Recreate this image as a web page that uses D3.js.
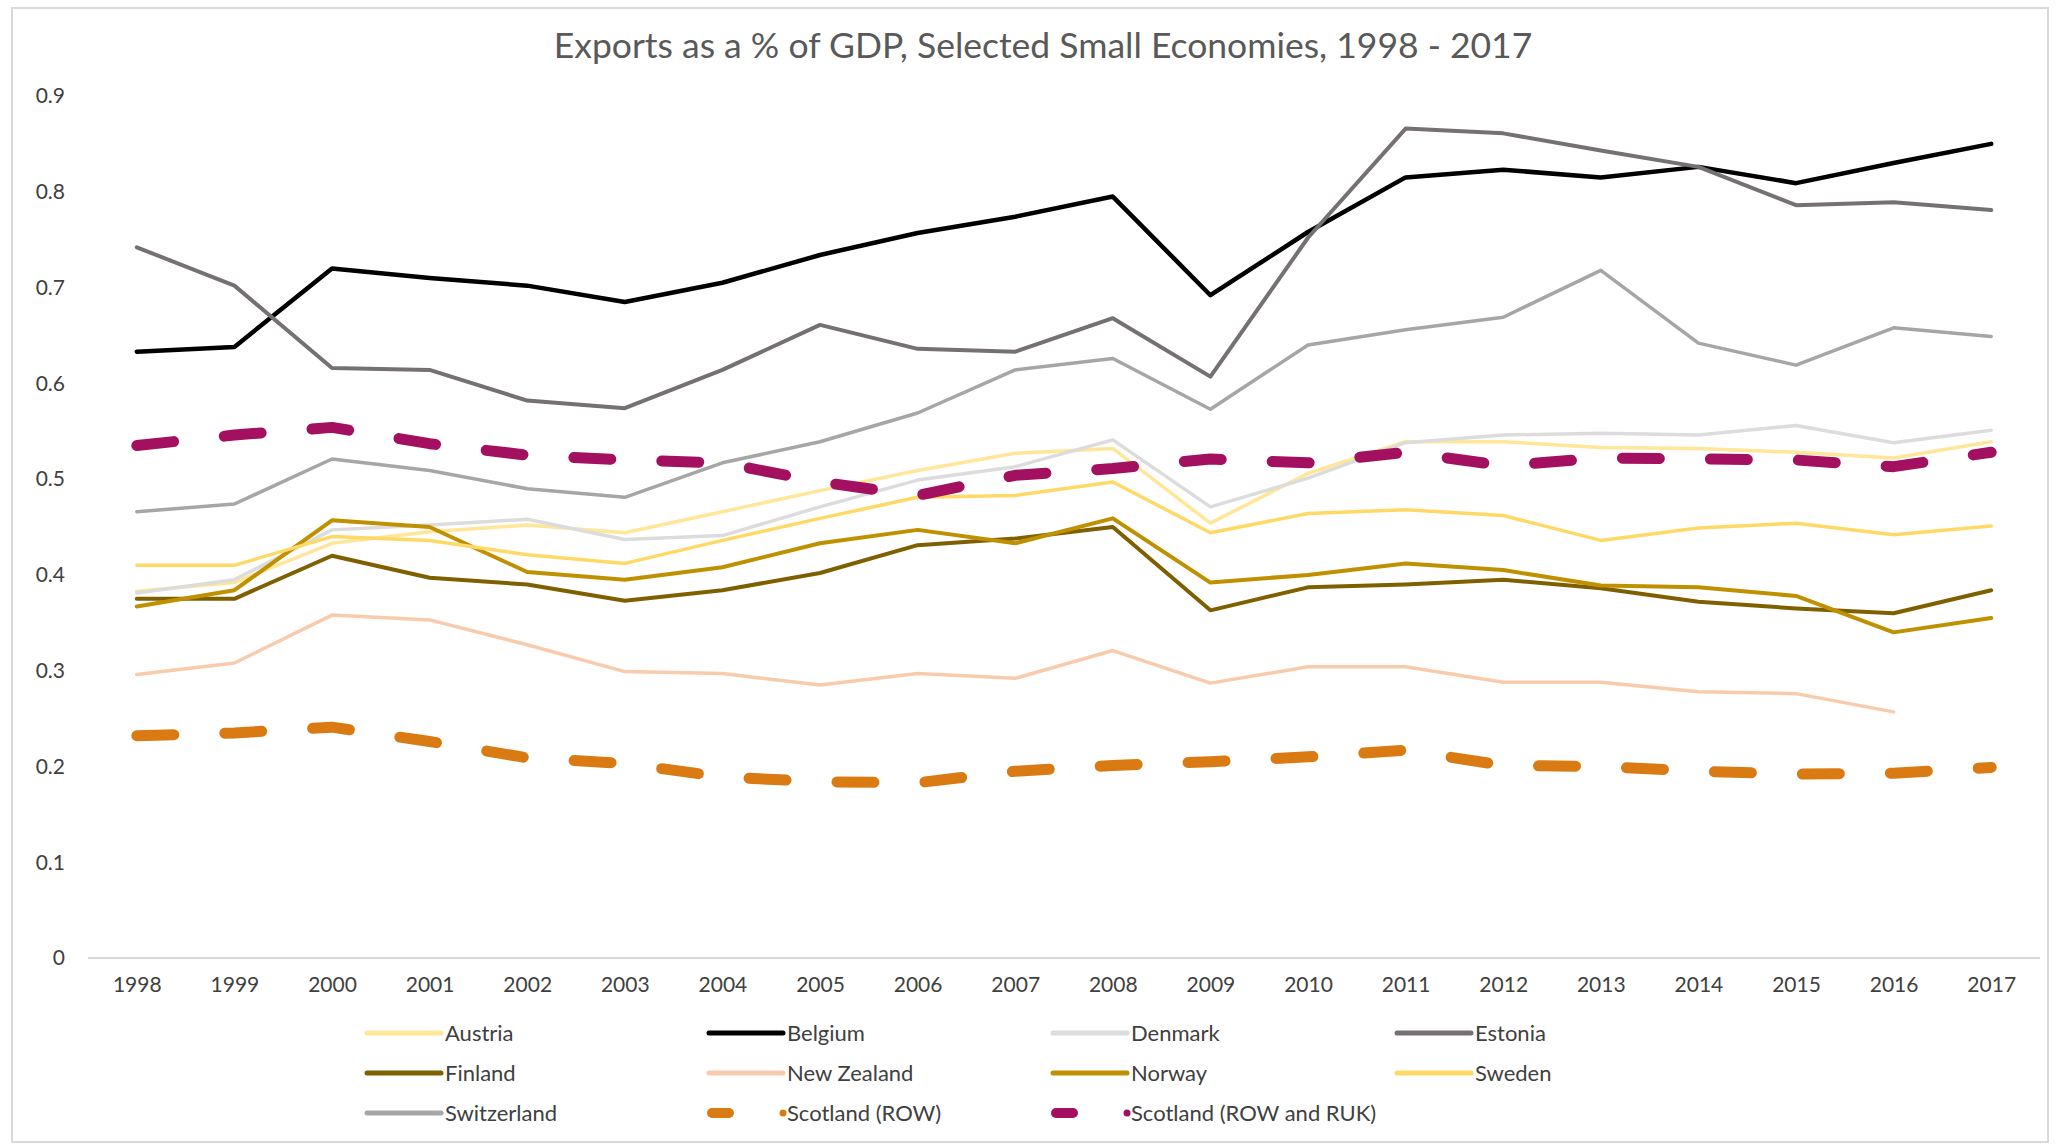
<!DOCTYPE html>
<html>
<head>
<meta charset="utf-8">
<script src="https://cdn.jsdelivr.net/npm/d3@7"></script>
<style>
  html, body { margin: 0; padding: 0; background: #fff; }
  svg { display: block; font-family: Lato, "Open Sans", sans-serif; }
</style>
</head>
<body>
<div id="chart"></div>
<script>
// categories
var years = ["1998","1999","2000","2001","2002","2003","2004","2005","2006","2007",
             "2008","2009","2010","2011","2012","2013","2014","2015","2016","2017"];

// series values (share of GDP)
var austria     = [0.383,0.392,0.433,0.445,0.452,0.444,0.466,0.488,0.509,0.527,0.532,0.454,0.506,0.539,0.539,0.533,0.532,0.528,0.522,0.539];
var belgium     = [0.633,0.638,0.720,0.710,0.702,0.685,0.705,0.734,0.757,0.774,0.795,0.692,0.758,0.815,0.823,0.815,0.826,0.809,0.830,0.850];
var denmark     = [0.381,0.395,0.447,0.452,0.458,0.437,0.441,0.471,0.499,0.513,0.541,0.471,0.501,0.538,0.546,0.548,0.546,0.556,0.538,0.551];
var estonia     = [0.742,0.702,0.616,0.614,0.582,0.574,0.614,0.661,0.636,0.633,0.668,0.607,0.752,0.866,0.861,0.843,0.826,0.786,0.789,0.781];
var finland     = [0.375,0.375,0.420,0.397,0.390,0.373,0.384,0.402,0.431,0.438,0.450,0.363,0.387,0.390,0.395,0.386,0.372,0.365,0.360,0.384];
var newZealand  = [0.296,0.308,0.358,0.353,0.327,0.299,0.297,0.285,0.297,0.292,0.321,0.287,0.304,0.304,0.288,0.288,0.278,0.276,0.257,null];
var norway      = [0.367,0.384,0.457,0.450,0.403,0.395,0.408,0.433,0.447,0.433,0.459,0.392,0.400,0.412,0.405,0.389,0.387,0.378,0.340,0.355];
var sweden      = [0.410,0.410,0.440,0.436,0.421,0.412,0.436,0.459,0.481,0.483,0.497,0.444,0.464,0.468,0.462,0.436,0.449,0.454,0.442,0.451];
var switzerland = [0.466,0.474,0.521,0.509,0.490,0.481,0.517,0.539,0.569,0.614,0.626,0.573,0.640,0.656,0.669,0.718,0.642,0.619,0.658,0.649];
var scotRow     = [0.232,0.235,0.241,0.226,0.209,0.203,0.189,0.184,0.183,0.195,0.201,0.205,0.210,0.217,0.201,0.200,0.195,0.192,0.193,0.199];
var scotRowRuk  = [0.535,0.546,0.554,0.537,0.525,0.520,0.517,0.497,0.483,0.504,0.511,0.521,0.517,0.528,0.514,0.522,0.521,0.520,0.513,0.528];

var yTicks = [0, 0.1, 0.2, 0.3, 0.4, 0.5, 0.6, 0.7, 0.8, 0.9];

var series = [
  {name: "Austria",     values: austria,     color: "#FFE699", width: 3.5},
  {name: "Belgium",     values: belgium,     color: "#000000", width: 4.5},
  {name: "Denmark",     values: denmark,     color: "#DCDCDC", width: 3.5},
  {name: "Estonia",     values: estonia,     color: "#767171", width: 4},
  {name: "Finland",     values: finland,     color: "#7F6000", width: 4},
  {name: "New Zealand", values: newZealand,  color: "#F8CBAD", width: 3.5},
  {name: "Norway",      values: norway,      color: "#BF9000", width: 4},
  {name: "Sweden",      values: sweden,      color: "#FFD966", width: 3.5},
  {name: "Switzerland", values: switzerland, color: "#A6A6A6", width: 3.5},
  {name: "Scotland (ROW)",         values: scotRow,    color: "#D97B12", width: 11, dashed: true},
  {name: "Scotland (ROW and RUK)", values: scotRowRuk, color: "#A3105F", width: 11, dashed: true}
];

var width = 2060, height = 1145;

var svg = d3.select("#chart").append("svg")
    .attr("width", width)
    .attr("height", height);

svg.append("rect")
    .attr("x", 12).attr("y", 8)
    .attr("width", 2036).attr("height", 1134)
    .attr("fill", "#fff")
    .attr("stroke", "#D9D9D9")
    .attr("stroke-width", 2);

// title, sized to the width it has in the picture
var title = svg.append("text")
    .attr("x", 1043).attr("y", 58)
    .attr("text-anchor", "middle")
    .attr("fill", "#595959")
    .style("font-size", "30px")
    .text("Exports as a % of GDP, Selected Small Economies, 1998 - 2017");
var tw = title.node().getComputedTextLength();
title.style("font-size", (30 * 979 / tw) + "px");

var x = d3.scalePoint().domain(years).range([88, 2040]).padding(0.5);
var y = d3.scaleLinear().domain([0, 0.9]).range([958, 96]);

// y axis labels (no axis line in the picture)
svg.append("g").selectAll("text")
    .data(yTicks)
  .enter().append("text")
    .attr("x", 65)
    .attr("y", function(d) { return y(d); })
    .attr("dy", "0.35em")
    .attr("text-anchor", "end")
    .attr("fill", "#404040")
    .style("font-size", "21px")
    .text(function(d) { return d === 0 ? "0" : d3.format(".1f")(d); });

// x axis
var xAxis = svg.append("g")
    .attr("transform", "translate(0," + y(0) + ")")
    .call(d3.axisBottom(x).tickSize(0).tickPadding(19));
xAxis.select(".domain").attr("stroke", "#D9D9D9").attr("stroke-width", 2)
    .attr("d", "M88,0H2040");
xAxis.selectAll("text")
    .attr("fill", "#404040")
    .style("font-size", "21px")
    .style("font-family", "Lato, 'Open Sans', sans-serif");

var line = d3.line()
    .defined(function(d) { return d != null; })
    .x(function(d, i) { return x(years[i]); })
    .y(function(d) { return y(d); });

svg.append("g").selectAll("path")
    .data(series)
  .enter().append("path")
    .attr("fill", "none")
    .attr("stroke", function(d) { return d.color; })
    .attr("stroke-width", function(d) { return d.width; })
    .attr("stroke-linejoin", "round")
    .attr("stroke-linecap", "round")
    .attr("stroke-dasharray", function(d) { return d.dashed ? "37,51" : null; })
    .attr("d", function(d) { return line(d.values); });

// legend
var legendCols = [365, 707, 1051, 1395];
var legendRows = [1033, 1073, 1113];

var item = svg.append("g").selectAll("g")
    .data(series)
  .enter().append("g")
    .attr("transform", function(d, i) {
      return "translate(" + legendCols[i % 4] + "," + legendRows[Math.floor(i / 4)] + ")";
    });

item.filter(function(d) { return !d.dashed; })
  .append("line")
    .attr("x1", 2).attr("x2", 76)
    .attr("stroke", function(d) { return d.color; })
    .attr("stroke-width", 5)
    .attr("stroke-linecap", "round");

item.filter(function(d) { return d.dashed; })
  .append("line")
    .attr("x1", 5).attr("x2", 22)
    .attr("stroke", function(d) { return d.color; })
    .attr("stroke-width", 10)
    .attr("stroke-linecap", "round");

item.filter(function(d) { return d.dashed; })
  .append("circle")
    .attr("cx", 76).attr("r", 3.5)
    .attr("fill", function(d) { return d.color; });

item.append("text")
    .attr("x", 80)
    .attr("dy", "0.35em")
    .attr("fill", "#404040")
    .style("font-size", "22px")
    .text(function(d) { return d.name; });
</script>
</body>
</html>
